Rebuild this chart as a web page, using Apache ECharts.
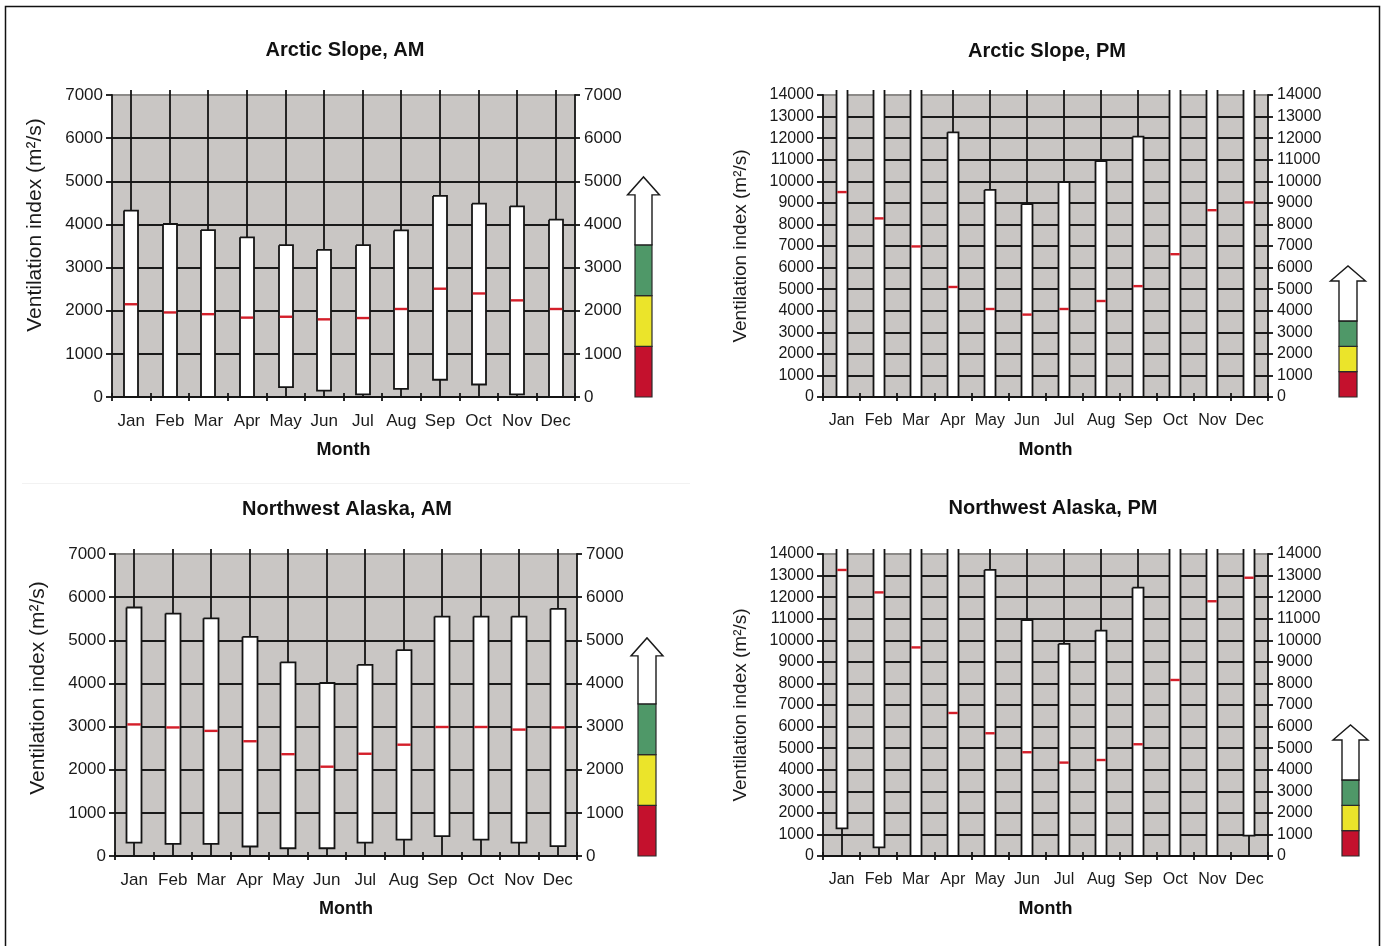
<!DOCTYPE html>
<html><head><meta charset="utf-8">
<script src="https://cdn.jsdelivr.net/npm/echarts@6/dist/echarts.min.js"></script>
<style>html,body{margin:0;padding:0;background:#fff}#c{width:1390px;height:946px}</style>
</head><body><div id="c"></div>
<script>
// ---------------- DATA ----------------
const months = ['Jan','Feb','Mar','Apr','May','Jun','Jul','Aug','Sep','Oct','Nov','Dec'];

// Arctic Slope, AM (m2/s)
const asAmMin    = [0,0,0,0,0,0,0,0,0,0,0,0];
const asAmQ1     = [0,0,0,0,230,150,60,190,400,290,60,0];
const asAmMedian = [2150,1960,1920,1840,1860,1800,1830,2040,2510,2400,2240,2040];
const asAmQ3     = [4320,4010,3870,3700,3520,3410,3520,3860,4660,4480,4420,4110];
const asAmMax    = [7500,7500,7500,7500,7500,7500,7500,7500,7500,7500,7500,7500]; // off scale

// Arctic Slope, PM
const asPmMin    = [0,0,0,0,0,0,0,0,0,0,0,0];
const asPmQ1     = [0,0,0,0,0,0,0,0,0,0,0,0];
const asPmMedian = [9500,8280,6980,5100,4080,3820,4080,4450,5140,6620,8660,9020];
const asPmQ3     = [15000,15000,15000,12270,9600,8940,9960,10940,12070,15000,15000,15000];
const asPmMax    = [16000,16000,16000,16000,16000,16000,16000,16000,16000,16000,16000,16000]; // off scale

// Northwest Alaska, AM
const nwAmMin    = [0,0,0,0,0,0,0,0,0,0,0,0];
const nwAmQ1     = [310,280,280,220,180,180,310,380,460,380,310,230];
const nwAmMedian = [3050,2980,2900,2660,2360,2070,2370,2580,2990,2990,2930,2980];
const nwAmQ3     = [5760,5620,5510,5080,4490,4010,4430,4770,5550,5550,5550,5730];
const nwAmMax    = [7500,7500,7500,7500,7500,7500,7500,7500,7500,7500,7500,7500]; // off scale

// Northwest Alaska, PM
const nwPmMin    = [0,0,0,0,0,0,0,0,0,0,0,0];
const nwPmQ1     = [1280,400,0,0,0,0,0,0,0,0,0,940];
const nwPmMedian = [13260,12220,9670,6630,5690,4810,4330,4450,5180,8160,11810,12900];
const nwPmQ3     = [15000,15000,15000,15000,13260,10940,9830,10450,12440,15000,15000,15000];
const nwPmMax    = [16000,16000,16000,16000,16000,16000,16000,16000,16000,16000,16000,16000]; // off scale

// Axis scales
const amAxisMax = 7000, pmAxisMax = 14000, axisStep = 1000;

// Ventilation rating classes (poor / marginal / fair, arrow = good)
const ratingBreaks = [0, 1175, 2350, 3525];
const ratingColors = ['#c4112d', '#ebe42a', '#4f9868'];

// ---------------- LAYOUT ----------------
const FONT = '"Liberation Sans", Arial, sans-serif';
const LW = 1.8;
const panels = [
  {title:'Arctic Slope, AM', min:asAmMin, q1:asAmQ1, med:asAmMedian, q3:asAmQ3, max:asAmMax, axMax:amAxisMax,
   left:112, top:95, width:463, height:302, fs:17, nameFs:21, nameGap:66, namePad:42, boxW:14,
   titleX:340, titleY:35, barOff:60, barW:17, shaft:50, headH:18, headW:32},
  {title:'Arctic Slope, PM', min:asPmMin, q1:asPmQ1, med:asPmMedian, q3:asPmQ3, max:asPmMax, axMax:pmAxisMax,
   left:823, top:95, width:445, height:302, fs:16, nameFs:19, nameGap:73, namePad:0, boxW:11,
   titleX:1042, titleY:36, barOff:71, barW:18, shaft:40, headH:15, headW:35},
  {title:'Northwest Alaska, AM', min:nwAmMin, q1:nwAmQ1, med:nwAmMedian, q3:nwAmQ3, max:nwAmMax, axMax:amAxisMax,
   left:115, top:554, width:462, height:302, fs:17, nameFs:21, nameGap:66, namePad:34, boxW:15,
   titleX:342, titleY:494, barOff:61, barW:18, shaft:48, headH:18, headW:32},
  {title:'Northwest Alaska, PM', min:nwPmMin, q1:nwPmQ1, med:nwPmMedian, q3:nwPmQ3, max:nwPmMax, axMax:pmAxisMax,
   left:823, top:554, width:445, height:302, fs:16, nameFs:19, nameGap:73, namePad:0, boxW:11,
   titleX:1048, titleY:493, barOff:74, barW:17, shaft:40, headH:15, headW:35}
];

function boxRenderer(boxW) {
  return function (params, api) {
    const i = api.value(0);
    const pLo = api.coord([i, api.value(1)]);
    const pQ1 = api.coord([i, api.value(2)]);
    const pMed = api.coord([i, api.value(3)]);
    const pQ3 = api.coord([i, api.value(4)]);
    const pHi = api.coord([i, api.value(5)]);
    const cs = params.coordSys;
    const clipTop = cs.y - 5;
    const cx = Math.round(pQ1[0]);
    const h = boxW / 2;
    const black = '#141414';
    const children = [];
    const clipped = pQ3[1] < clipTop;
    const topY = clipped ? clipTop : pQ3[1];
    const botY = pQ1[1];
    if (!clipped) {
      children.push({type:'line', shape:{x1:cx, y1:topY, x2:cx, y2:Math.max(pHi[1], clipTop)},
        style:{stroke:black, lineWidth:LW}});
    }
    children.push({type:'line', shape:{x1:cx, y1:botY, x2:cx, y2:pLo[1]}, style:{stroke:black, lineWidth:LW}});
    children.push({type:'line', shape:{x1:cx - h, y1:pLo[1], x2:cx + h, y2:pLo[1]}, style:{stroke:black, lineWidth:LW}});
    children.push({type:'rect', shape:{x:cx - h, y:topY, width:boxW, height:botY - topY}, style:{fill:'#fff', stroke:null}});
    const pts = clipped
      ? [[cx - h, topY], [cx - h, botY], [cx + h, botY], [cx + h, topY]]
      : [[cx - h, topY], [cx - h, botY], [cx + h, botY], [cx + h, topY], [cx - h, topY]];
    children.push({type:'polyline', shape:{points:pts}, style:{stroke:black, lineWidth:LW, fill:null}});
    children.push({type:'line', shape:{x1:cx - h + 0.8, y1:pMed[1], x2:cx + h - 0.8, y2:pMed[1]}, style:{stroke:'#d41f2a', lineWidth:2.4}});
    return {type:'group', children};
  };
}

function ratingRenderer(p) {
  return function (params, api) {
    const cs = params.coordSys;
    const x0 = cs.x + cs.width + p.barOff;
    const lo = api.coord([0, api.value(1)])[1];
    const hi = api.coord([0, api.value(2)])[1];
    const k = api.value(3);
    if (k < ratingColors.length) {
      return {type:'rect', shape:{x:x0, y:hi, width:p.barW, height:lo - hi},
        style:{fill:ratingColors[k], stroke:'#2a2a2a', lineWidth:1.2}};
    }
    const w = p.barW, ext = (p.headW - w) / 2, yb = lo - p.shaft;
    return {type:'polygon', shape:{points:[
      [x0, lo], [x0, yb], [x0 - ext, yb], [x0 + w / 2, yb - p.headH], [x0 + w + ext, yb], [x0 + w, yb], [x0 + w, lo]
    ]}, style:{fill:'#fff', stroke:'#1a1a1a', lineWidth:1.4}};
  };
}

const plain = v => String(v);
const grids = [], xAxes = [], yAxes = [], series = [], titles = [];
panels.forEach((p, gi) => {
  grids.push({left:p.left, top:p.top, width:p.width, height:p.height, show:true,
    backgroundColor:'#c9c6c4', borderWidth:0});
  titles.push({text:p.title, left:p.titleX, top:p.titleY, textAlign:'center',
    textStyle:{fontFamily:FONT, fontSize:20, fontWeight:'bold', color:'#111'}});
  const nTicks = p.axMax / axisStep + 1;
  const splitColors = [];
  for (let k = 0; k < nTicks - 1; k++) splitColors.push('#1a1a1a');
  splitColors.push('#8c8a88');
  xAxes.push({gridIndex:gi, type:'category', data:months, position:'bottom',
    name:'Month', nameLocation:'middle', nameGap:44,
    nameTextStyle:{fontFamily:FONT, fontSize:18, fontWeight:'bold', color:'#111'},
    axisLine:{lineStyle:{color:'#141414', width:LW}},
    axisTick:{show:true, length:4, lineStyle:{color:'#141414', width:LW}},
    axisLabel:{fontFamily:FONT, fontSize:p.fs, color:'#1a1a1a', margin:16, interval:0},
    splitLine:{show:false}});
  xAxes.push({gridIndex:gi, type:'category', data:months, position:'bottom',
    axisLine:{show:false}, axisLabel:{show:false},
    axisTick:{show:true, inside:true, length:4, lineStyle:{color:'#141414', width:LW}},
    splitLine:{show:false}});
  yAxes.push({gridIndex:gi, type:'value', min:0, max:p.axMax, interval:axisStep, position:'left',
    name:'Ventilation index (m²/s)', nameLocation:'middle', nameGap:p.nameGap,
    nameTextStyle:{fontFamily:FONT, fontSize:p.nameFs, color:'#1a1a1a', padding:[0,0,0,p.namePad]},
    axisLine:{show:true, lineStyle:{color:'#141414', width:LW}},
    axisTick:{show:true, length:6, lineStyle:{color:'#141414', width:LW}},
    axisLabel:{fontFamily:FONT, fontSize:p.fs, color:'#1a1a1a', margin:9, formatter:plain},
    splitLine:{show:true, lineStyle:{color:splitColors, width:LW}}});
  yAxes.push({gridIndex:gi, type:'value', min:0, max:p.axMax, interval:axisStep, position:'right',
    axisLine:{show:true, lineStyle:{color:'#141414', width:LW}},
    axisTick:{show:true, length:5, lineStyle:{color:'#141414', width:LW}},
    axisLabel:{fontFamily:FONT, fontSize:p.fs, color:'#1a1a1a', margin:9, formatter:plain},
    splitLine:{show:false}});
  series.push({type:'custom', xAxisIndex:gi * 2, yAxisIndex:gi * 2,
    renderItem:boxRenderer(p.boxW), encode:{x:0, y:[1,2,3,4,5]}, silent:true, z:3,
    data:months.map((m, i) => [i, p.min[i], p.q1[i], p.med[i], p.q3[i], p.max[i]])});
  const rData = [];
  for (let k = 0; k < ratingColors.length; k++) rData.push([0, ratingBreaks[k], ratingBreaks[k + 1], k]);
  rData.push([0, ratingBreaks[ratingBreaks.length - 1], ratingBreaks[ratingBreaks.length - 1], ratingColors.length]);
  series.push({type:'custom', xAxisIndex:gi * 2, yAxisIndex:gi * 2 + 1,
    renderItem:ratingRenderer(p), encode:{x:0, y:[1,2]}, silent:true, clip:false, z:4, data:rData});
});

const chart = echarts.init(document.getElementById('c'), null, {renderer:'canvas'});
chart.setOption({
  animation:false,
  backgroundColor:'#fff',
  title:titles, grid:grids, xAxis:xAxes, yAxis:yAxes, series,
  graphic:[
    {type:'rect', shape:{x:5.5, y:6.5, width:1374, height:1000}, style:{fill:null, stroke:'#111', lineWidth:1.5}, silent:true},
    {type:'line', shape:{x1:22, y1:483.5, x2:690, y2:483.5}, style:{stroke:'#f2f2f2', lineWidth:1}, silent:true}
  ]
});
</script></body></html>
